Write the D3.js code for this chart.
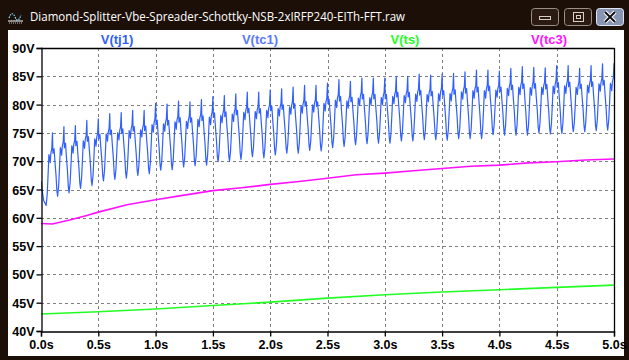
<!DOCTYPE html>
<html><head><meta charset="utf-8">
<script src="https://cdn.jsdelivr.net/npm/d3@7"></script>
<style>html,body{margin:0;padding:0;background:#1c0f08;}svg{display:block}</style>
</head><body>
<script>
// ---------------- data ----------------
const titleText = "Diamond-Splitter-Vbe-Spreader-Schottky-NSB-2xIRFP240-EITh-FFT.raw";
const seriesNames = ["V(tj1)", "V(tc1)", "V(ts)", "V(tc3)"];
const seriesColors = ["#2f5fff", "#5a78ff", "#22ff22", "#ff11ff"];
const timeTicks = [0, 0.5, 1, 1.5, 2, 2.5, 3, 3.5, 4, 4.5, 5];
const timeTickLabels = ["0.0s","0.5s","1.0s","1.5s","2.0s","2.5s","3.0s","3.5s","4.0s","4.5s","5.0s"];
const voltTicks = [40, 45, 50, 55, 60, 65, 70, 75, 80, 85, 90];
const voltTickLabels = ["40V","45V","50V","55V","60V","65V","70V","75V","80V","85V","90V"];

// blue trace (V(tj1)/V(tc1)): start of trace, then per-cycle peaks and troughs
const startTimes = [0.0, 0.012, 0.024];
const startValues = [66.5, 64.6, 63.0];
const peakTimes = [0.1,0.2,0.3,0.4,0.5,0.6,0.7,0.8,0.9,1.0,1.1,1.2,1.3,1.4,1.5,1.6,1.7,1.8,1.9,2.0,
  2.1,2.2,2.3,2.4,2.5,2.6,2.7,2.8,2.9,3.0,3.1,3.2,3.3,3.4,3.5,3.6,3.7,3.8,3.9,4.0,
  4.1,4.2,4.3,4.4,4.5,4.6,4.7,4.8,4.9,5.0];
const peakValues = [75.0,76.1,76.3,77.2,77.5,78.4,78.6,79.0,79.0,80.2,80.1,80.6,80.5,80.9,81.4,81.6,81.9,82.2,82.2,82.6,
  82.8,83.1,83.4,83.4,83.8,84.4,84.1,84.7,84.7,84.7,85.0,85.0,85.4,85.2,85.4,85.5,85.8,86.1,86.1,85.9,
  86.4,86.7,86.6,86.5,86.9,86.9,86.4,86.9,87.2,87.3];
const troughTimes = [0.045,0.145,0.245,0.345,0.445,0.545,0.645,0.745,0.845,0.945,1.045,1.145,1.245,1.345,1.445,1.545,1.645,1.745,1.845,1.945,
  2.045,2.145,2.245,2.345,2.445,2.545,2.645,2.745,2.845,2.945,3.045,3.145,3.245,3.345,3.445,3.545,3.645,3.745,3.845,3.945,
  4.045,4.145,4.245,4.345,4.445,4.545,4.645,4.745,4.845,4.945];
const troughValues = [62.2,63.8,64.4,65.2,65.7,66.5,66.8,67.0,67.5,67.8,68.4,68.5,69.0,69.2,69.3,69.9,70.0,70.3,70.8,70.6,
  71.1,71.4,71.4,71.9,71.8,72.4,72.6,72.9,73.1,73.2,73.2,73.6,73.6,73.8,73.8,73.7,74.0,74.0,74.0,74.7,
  74.6,74.6,74.6,75.0,74.8,74.9,75.2,75.2,75.4,75.5];
// in-cycle shape: time offset from the peak and level between trough (0) and peak (1)
const riseOffsets = [-0.046, -0.038, -0.031, -0.025, -0.020, -0.014, -0.006, 0];
const riseLevels  = [0.15, 0.43, 0.70, 0.66, 0.59, 0.72, 0.78, 1.0];
const fallOffsets = [0.004, 0.008, 0.014, 0.022, 0.031, 0.039];
const fallLevels  = [0.68, 0.70, 0.75, 0.54, 0.33, 0.08];

// V(tc3) magenta
const tc3Times  = [0, 0.1, 0.25, 0.4, 0.5, 0.75, 1.0, 1.25, 1.5, 1.75, 2.0, 2.25, 2.5, 2.75, 3.0, 3.25, 3.5, 3.75, 4.0, 4.25, 4.5, 4.75, 5.0];
const tc3Values = [59.0, 58.9, 59.6, 60.4, 61.0, 62.3, 63.2, 64.0, 64.8, 65.3, 65.9, 66.4, 67.0, 67.6, 67.9, 68.3, 68.7, 69.1, 69.3, 69.7, 69.9, 70.2, 70.4];
// V(ts) green
const tsTimes  = [0, 0.5, 1.0, 1.5, 2.0, 2.5, 3.0, 3.5, 4.0, 4.5, 5.0];
const tsValues = [43.0, 43.4, 43.9, 44.5, 45.1, 45.8, 46.4, 46.9, 47.3, 47.7, 48.1];

// ---------------- build blue series points ----------------
const bluePts = [];
startTimes.forEach((t, i) => bluePts.push([t, startValues[i]]));
bluePts.push([troughTimes[0], troughValues[0]]);
peakTimes.forEach((pt, k) => {
  const P = peakValues[k], Tp = troughValues[k];
  riseOffsets.forEach((dt, j) => bluePts.push([pt + dt, Tp + riseLevels[j] * (P - Tp)]));
  if (k + 1 < troughValues.length) {
    const Tn = troughValues[k + 1];
    fallOffsets.forEach((dt, j) => bluePts.push([pt + dt, Tn + fallLevels[j] * (P - Tn)]));
    bluePts.push([troughTimes[k + 1], Tn]);
  }
});

// ---------------- drawing ----------------
const W = 629, H = 360;
const svg = d3.select("body").append("svg").attr("width", W).attr("height", H);
svg.append("rect").attr("width", W).attr("height", H).attr("fill", "#1c0f08");
svg.append("rect").attr("x", 8).attr("y", 30).attr("width", 616).attr("height", 326).attr("fill", "#ffffff");

// title bar
const icon = svg.append("g").attr("transform", "translate(8,9)");
icon.append("path").attr("d", "M1,9 Q4,1 7,8 T13,6").attr("fill", "none").attr("stroke", "#7fe0ff").attr("stroke-width", 1.2).attr("stroke-dasharray", "1.5,1");
icon.append("path").attr("d", "M0,12 H15").attr("stroke", "#ffffff").attr("stroke-width", 1);
icon.append("path").attr("d", "M1,14 H14").attr("stroke", "#c0c0c0").attr("stroke-width", 1).attr("stroke-dasharray", "1,1");
svg.append("text").attr("x", 30).attr("y", 21).text(titleText)
  .attr("font-family", "'Open Sans', 'Noto Sans', sans-serif").attr("font-size", 12.5)
  .attr("fill", "#ffffff").attr("textLength", 375).attr("lengthAdjust", "spacingAndGlyphs");

function btn(bx, close) {
  const g = svg.append("g");
  g.append("rect").attr("x", bx + 0.5).attr("y", 8.5).attr("width", 27).attr("height", 17).attr("rx", 3)
    .attr("fill", close ? "#8896b4" : "#2a1a12").attr("stroke", close ? "#dfe6f2" : "#9a9088");
  return g;
}
const b1 = btn(531, false);
b1.append("rect").attr("x", 539.5).attr("y", 16.5).attr("width", 11).attr("height", 3).attr("fill", "none").attr("stroke", "#d8d0c8");
const b2 = btn(564, false);
b2.append("rect").attr("x", 573.5).attr("y", 12.5).attr("width", 10).attr("height", 9).attr("fill", "none").attr("stroke", "#d8d0c8");
b2.append("rect").attr("x", 576.5).attr("y", 15.5).attr("width", 4).attr("height", 3).attr("fill", "none").attr("stroke", "#d8d0c8");
const b3 = btn(596, true);
b3.append("path").attr("d", "M605,12 L615,22 M615,12 L605,22").attr("stroke", "#ffffff").attr("stroke-width", 4);
b3.append("path").attr("d", "M605,12 L615,22 M615,12 L605,22").attr("stroke", "#111111").attr("stroke-width", 2);

// plot
const pLeft = 41, pRight = 614, pTop = 48, pBottom = 331;
const x = d3.scaleLinear().domain([0, 5]).range([pLeft, pRight]);
const y = d3.scaleLinear().domain([40, 90]).range([pBottom, pTop]);

const grid = svg.append("g").attr("stroke", "#808080").attr("stroke-width", 1).attr("stroke-dasharray", "3,3").attr("shape-rendering", "crispEdges");
grid.selectAll("line.h").data(voltTicks.filter(v => v > 40 && v < 90)).join("line").attr("class", "h")
  .attr("x1", pLeft).attr("x2", pRight).attr("y1", d => Math.round(y(d)) + 0.5).attr("y2", d => Math.round(y(d)) + 0.5);
grid.selectAll("line.v").data(timeTicks.filter(t => t > 0 && t < 5)).join("line").attr("class", "v")
  .attr("y1", pTop).attr("y2", pBottom).attr("x1", d => Math.round(x(d)) + 0.5).attr("x2", d => Math.round(x(d)) + 0.5);

svg.append("clipPath").attr("id", "pc").append("rect")
  .attr("x", pLeft).attr("y", pTop).attr("width", pRight - pLeft).attr("height", pBottom - pTop);
const line = d3.line().x(d => x(d[0])).y(d => y(d[1]));
const plot = svg.append("g").attr("clip-path", "url(#pc)");
plot.append("path").datum(tsTimes.map((t, i) => [t, tsValues[i]])).attr("d", line)
  .attr("fill", "none").attr("stroke", seriesColors[2]).attr("stroke-width", 1.6);
plot.append("path").datum(tc3Times.map((t, i) => [t, tc3Values[i]])).attr("d", line)
  .attr("fill", "none").attr("stroke", seriesColors[3]).attr("stroke-width", 1.6);
plot.append("path").datum(bluePts).attr("d", line)
  .attr("fill", "none").attr("stroke", seriesColors[0]).attr("stroke-width", 1.2).attr("stroke-linejoin", "round");

// axes
const yAxis = d3.axisLeft(y).tickValues(voltTicks).tickFormat((d, i) => voltTickLabels[i]).tickSize(5).tickPadding(2);
const xAxis = d3.axisBottom(x).tickValues(timeTicks).tickFormat((d, i) => timeTickLabels[i]).tickSize(5).tickPadding(3);
const gy = svg.append("g").attr("transform", `translate(${pLeft + 0.5},0)`).call(yAxis);
const gx = svg.append("g").attr("transform", `translate(0,${pBottom + 0.5})`).call(xAxis);
[gy, gx].forEach(g => {
  g.select(".domain").attr("stroke", "#000").attr("stroke-width", 1.3);
  g.selectAll(".tick line").attr("stroke", "#000").attr("stroke-width", 1.3);
  g.selectAll(".tick text").attr("fill", "#000").attr("font-family", "'Liberation Sans', Arial, sans-serif")
    .attr("font-size", 12.5).attr("font-weight", "bold");
});
gy.selectAll(".tick text").attr("dy", "0.36em");
gx.selectAll(".tick text").attr("dy", "0.74em");
// frame top and right
svg.append("line").attr("x1", pLeft).attr("x2", pRight + 0.5).attr("y1", pTop + 0.5).attr("y2", pTop + 0.5).attr("stroke", "#000").attr("stroke-width", 1.3);
svg.append("line").attr("x1", pRight + 0.5).attr("x2", pRight + 0.5).attr("y1", pTop).attr("y2", pBottom + 1).attr("stroke", "#000").attr("stroke-width", 1.3);

// legend labels
const legendX = [117, 260, 405, 549];
svg.selectAll("text.leg").data(seriesNames).join("text").attr("class", "leg")
  .attr("x", (d, i) => legendX[i]).attr("y", 44).attr("text-anchor", "middle")
  .attr("font-family", "'Liberation Sans', Arial, sans-serif").attr("font-size", 13).attr("font-weight", "bold")
  .attr("fill", (d, i) => seriesColors[i]).text(d => d);
</script>
</body></html>
